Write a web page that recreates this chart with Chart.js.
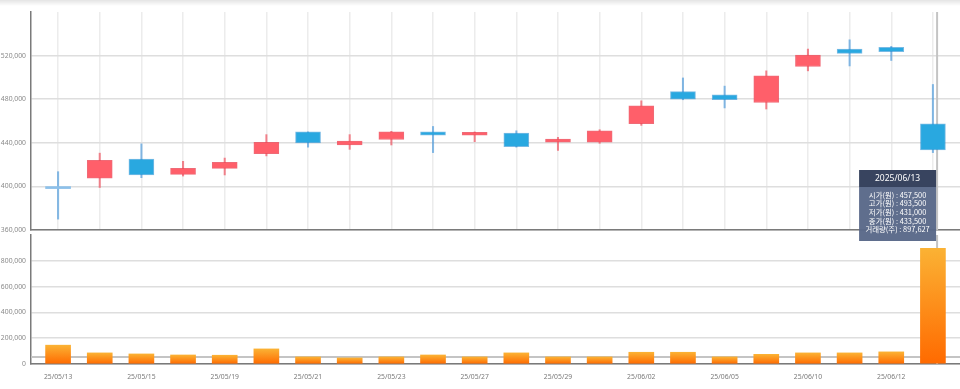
<!DOCTYPE html>
<html>
<head>
<meta charset="utf-8">
<script src="https://cdn.jsdelivr.net/npm/chart.js@4.4.1/dist/chart.umd.min.js"></script>
<style>
html, body { margin: 0; padding: 0; background: #fff; }
#wrap { position: relative; width: 960px; height: 389px; overflow: hidden; }
#shade { position: absolute; left: 0; top: 0; width: 960px; height: 6px; z-index: 3;
  background: linear-gradient(#e4e4e4, rgba(255,255,255,0)); }
#priceBox { position: absolute; left: 0; top: 0; width: 960px; height: 245px; z-index: 2; }
#volBox { position: absolute; left: 0; top: 233px; width: 960px; height: 156px; z-index: 1; }
</style>
</head>
<body>
<div id="wrap">
  <div id="shade"></div>
  <div id="volBox"><canvas id="vol"></canvas></div>
  <div id="priceBox"><canvas id="price"></canvas></div>
</div>
<script>
// daily candles, 25/05/13 ~ 25/06/13
var dates = ['25/05/13', '25/05/14', '25/05/15', '25/05/16', '25/05/19', '25/05/20', '25/05/21', '25/05/22',
  '25/05/23', '25/05/26', '25/05/27', '25/05/28', '25/05/29', '25/05/30', '25/06/02', '25/06/04',
  '25/06/05', '25/06/09', '25/06/10', '25/06/11', '25/06/12', '25/06/13'];
var opens = [398500, 407500, 425000, 411000, 416500, 430000, 450000, 438000, 443000, 450000, 447000,
  449000, 440500, 440500, 457500, 487000, 484000, 477000, 510000, 526000, 527500, 457500];
var highs = [413500, 430500, 439000, 423000, 426000, 447500, 450000, 447500, 450500, 455000, 450000,
  451000, 445000, 452000, 478500, 499500, 492000, 506000, 526000, 534500, 528500, 493500];
var lows = [370000, 399000, 408000, 409500, 410500, 428000, 436000, 434000, 438000, 431000, 441000,
  436000, 433000, 439500, 456000, 479500, 472000, 471000, 506000, 510500, 515500, 431000];
var closes = [398000, 424000, 410500, 416500, 422000, 440500, 440000, 441500, 450000, 447000, 449500,
  436500, 443500, 451000, 474000, 480000, 479500, 501500, 520500, 522000, 523500, 433500];
var volumes = [146000, 86000, 78000, 70000, 68000, 117000, 55000, 47000, 55000, 70000, 55000,
  86000, 55000, 55000, 91000, 91000, 55000, 75000, 86000, 86000, 94000, 897627];

// mouse position of the captured hover state
var hoverIndex = 21;
var hoverX = 21.1;
var hoverVolume = 54500;

var RED = '#ff5f6a', RED_LINE = 'rgba(240,70,85,0.65)';
var BLUE = '#29a8e0', BLUE_LINE = 'rgba(40,135,215,0.55)';
var TICK_FONT = { family: "'Noto Sans', 'Noto Sans CJK KR', sans-serif", size: 6.8 };

function isUp(i) { return closes[i] > opens[i]; }
function fmt(v) { return v.toLocaleString('en-US'); }

var bodies = opens.map(function (o, i) { return { x: i, y: [o, closes[i]] }; });
var wicks = lows.map(function (l, i) { return { x: i, y: [l, highs[i]] }; });
var volPoints = volumes.map(function (v, i) { return { x: i, y: v }; });

function fixWidth(scale) { scale.width = 31; scale.paddingTop = 0; scale.paddingBottom = 0; }

// keep only ticks inside [lo, hi)
function keepTicks(lo, hi) {
  return function (scale) {
    scale.ticks = scale.ticks.filter(function (t) { return t.value > lo - 1e-6 && t.value < hi - 1e-6; });
  };
}

function crosshair(withHorizontal) {
  return {
    id: 'crosshair',
    beforeDatasetsDraw: function (chart) {
      var ctx = chart.ctx, a = chart.chartArea;
      var x = chart.scales.x.getPixelForValue(hoverX);
      ctx.save();
      ctx.strokeStyle = '#c4c4c4';
      ctx.lineWidth = 2;
      ctx.beginPath();
      ctx.moveTo(x, a.top);
      ctx.lineTo(x, a.bottom);
      if (withHorizontal) {
        var y = chart.scales.y.getPixelForValue(hoverVolume);
        ctx.moveTo(a.left, y);
        ctx.lineTo(a.right, y);
      }
      ctx.stroke();
      ctx.restore();
    }
  };
}

var tipPlugin = {
  id: 'tip',
  afterDraw: function (chart) {
    var ctx = chart.ctx;
    var i = hoverIndex;
    var right = chart.scales.x.getPixelForValue(hoverX) - 1;
    var w = 77, left = right - w, top = 170, headH = 17, bodyH = 54;
    var lines = [
      '시가(원) : ' + fmt(opens[i]),
      '고가(원) : ' + fmt(highs[i]),
      '저가(원) : ' + fmt(lows[i]),
      '종가(원) : ' + fmt(closes[i]),
      '거래량(주) : ' + fmt(volumes[i])
    ];
    ctx.save();
    ctx.fillStyle = 'rgba(50,62,90,0.97)';
    ctx.fillRect(left, top, w, headH);
    ctx.fillStyle = 'rgba(88,104,136,0.96)';
    ctx.fillRect(left, top + headH, w, bodyH);
    ctx.fillStyle = '#ffffff';
    ctx.textAlign = 'center';
    ctx.textBaseline = 'middle';
    ctx.font = "8.5px 'Noto Sans', 'Noto Sans CJK KR', sans-serif";
    ctx.fillText('20' + dates[i], left + w / 2, top + headH / 2 + 0.5);
    ctx.font = "7.4px 'Noto Sans CJK KR', sans-serif";
    lines.forEach(function (t, k) {
      ctx.fillText(t, left + w / 2, top + headH + 8 + k * 8.6);
    });
    ctx.restore();
  }
};

Chart.defaults.font = TICK_FONT;
Chart.defaults.color = '#8a8a8a';

new Chart(document.getElementById('price'), {
  type: 'bar',
  data: {
    datasets: [{
      data: wicks,
      order: 2,
      grouped: false,
      barThickness: 1.4,
      backgroundColor: function (c) { return isUp(c.dataIndex) ? RED_LINE : BLUE_LINE; },
      borderWidth: 0
    }, {
      data: bodies,
      order: 1,
      grouped: false,
      barThickness: 25,
      minBarLength: 2,
      backgroundColor: function (c) {
        if (c.dataIndex === 0) return '#8cc0ea';
        return isUp(c.dataIndex) ? RED : BLUE;
      },
      borderColor: function (c) { return isUp(c.dataIndex) ? 'rgba(235,70,85,0.8)' : 'rgba(30,140,210,0.6)'; },
      borderWidth: function (c) { return c.dataIndex === 0 ? 0 : 1; },
      borderSkipped: false
    }]
  },
  options: {
    responsive: true,
    maintainAspectRatio: false,
    animation: false,
    events: [],
    layout: { padding: { top: 12, bottom: 15, left: 0, right: 0 } },
    plugins: { legend: { display: false }, tooltip: { enabled: false } },
    scales: {
      x: {
        type: 'linear',
        offset: false,
        min: -0.65,
        max: 21.65,
        ticks: { display: false, stepSize: 1, includeBounds: false },
        grid: { color: '#ececec', lineWidth: 1.5, drawTicks: false, offset: false },
        border: { color: '#7a7a7a', width: 1.5 },
        afterBuildTicks: keepTicks(0, 22),
        afterFit: function (s) { s.height = 0; s.paddingLeft = 0; s.paddingRight = 0; }
      },
      y: {
        min: 360000,
        max: 560000,
        ticks: { stepSize: 40000, padding: 5, callback: function (v) { return fmt(v); } },
        grid: { color: '#dedede', lineWidth: 1.5, drawTicks: false },
        border: { color: '#7a7a7a', width: 1.5 },
        afterBuildTicks: keepTicks(360000, 560000),
        afterFit: fixWidth
      }
    }
  },
  plugins: [crosshair(false), tipPlugin]
});

new Chart(document.getElementById('vol'), {
  type: 'bar',
  data: {
    datasets: [{
      data: volPoints,
      barThickness: 25,
      borderWidth: 0,
      backgroundColor: function (c) {
        var y = c.chart.scales.y;
        if (!y || !c.parsed) return '#ff8c10';
        var top = y.getPixelForValue(c.parsed.y), bottom = y.getPixelForValue(0);
        if (!isFinite(top) || !isFinite(bottom) || bottom - top < 1) return '#ff8c10';
        var g = c.chart.ctx.createLinearGradient(0, top, 0, bottom);
        g.addColorStop(0, '#fbb234');
        g.addColorStop(1, '#ff6a00');
        return g;
      }
    }]
  },
  options: {
    responsive: true,
    maintainAspectRatio: false,
    animation: false,
    events: [],
    layout: { padding: { top: 2, bottom: 0, left: 0, right: 0 } },
    plugins: { legend: { display: false }, tooltip: { enabled: false } },
    scales: {
      x: {
        type: 'linear',
        offset: false,
        min: -0.65,
        max: 21.65,
        ticks: {
          stepSize: 2,
          includeBounds: false,
          padding: 9,
          maxRotation: 0,
          autoSkip: false,
          color: '#7a7a7a',
          callback: function (v) { return dates[Math.round(v)] || ''; }
        },
        grid: { display: false, drawTicks: false, offset: false },
        border: { color: '#7a7a7a', width: 1.5 },
        afterBuildTicks: keepTicks(0, 22),
        afterFit: function (s) { s.height = 25; s.paddingLeft = 0; s.paddingRight = 0; }
      },
      y: {
        min: 0,
        max: 1000000,
        ticks: { stepSize: 200000, padding: 5, callback: function (v) { return fmt(v); } },
        grid: { color: '#dedede', lineWidth: 1.5, drawTicks: false },
        border: { color: '#7a7a7a', width: 1.5 },
        afterBuildTicks: keepTicks(0, 1000000),
        afterFit: fixWidth
      }
    }
  },
  plugins: [crosshair(true)]
});
</script>
</body>
</html>
